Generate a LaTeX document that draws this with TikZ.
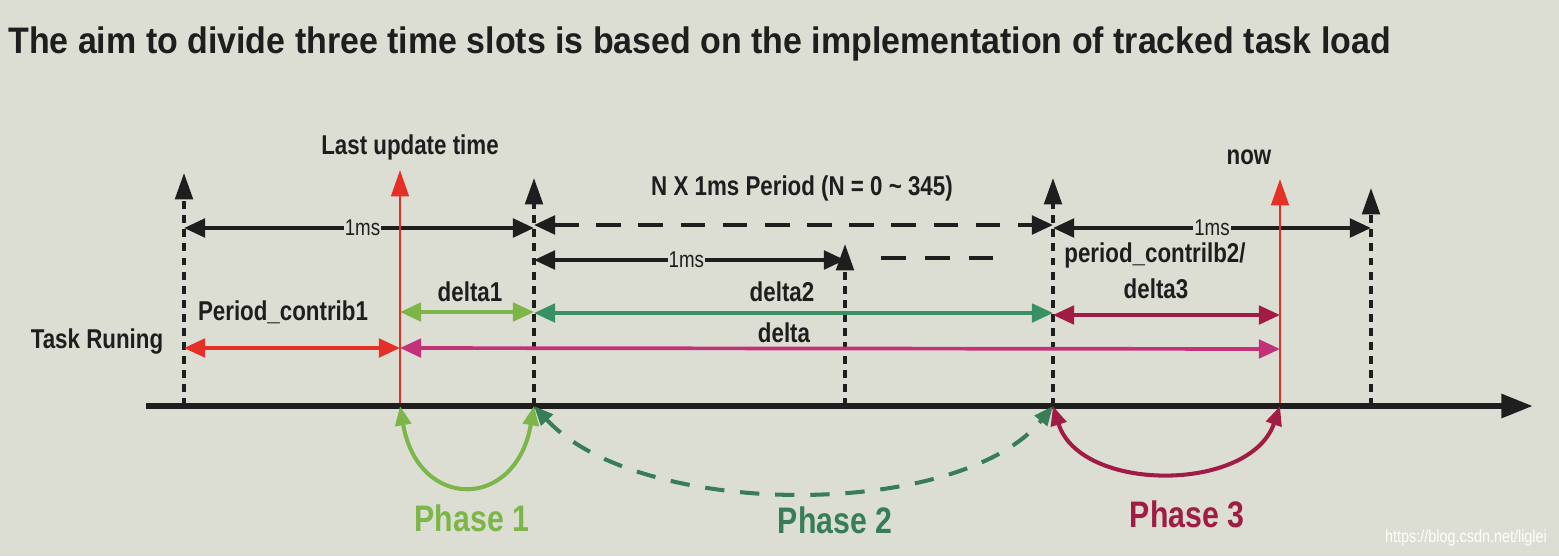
\documentclass[tikz,border=0pt]{standalone}
\usepackage{fontspec}
\setmainfont{Liberation Sans}
\newfontfamily\narrowf[FakeStretch=0.82]{Liberation Sans}
\newfontfamily\titlef[FakeStretch=0.92]{Liberation Sans}
\usetikzlibrary{arrows.meta}
\definecolor{bg}{RGB}{220,222,212}
\definecolor{ink}{RGB}{30,30,30}
\definecolor{cred}{RGB}{228,48,38}
\definecolor{lgreen}{RGB}{125,182,72}
\definecolor{dgreen}{RGB}{55,145,100}
\definecolor{pgreen}{RGB}{55,125,88}
\definecolor{magen}{RGB}{195,50,120}
\definecolor{dred}{RGB}{160,28,68}
\tikzset{
  lbl/.style={font=\narrowf\bfseries\fontsize{15.5}{17}\selectfont, text=ink, inner sep=1pt},
  mslbl/.style={font=\narrowf\fontsize{13}{15}\selectfont, text=ink, fill=bg, inner xsep=0.5pt, inner ysep=0pt},
  phlbl/.style={font=\narrowf\bfseries\fontsize{21}{24}\selectfont, inner sep=1pt},
  vdash/.style={ink, line width=2pt, dash pattern=on 4.5pt off 3.5pt, -{Triangle[length=15pt,width=10pt]}},
  vred/.style={cred, line width=1.6pt, -{Triangle[length=15pt,width=10pt]}},
  dim/.style={ink, line width=2.3pt, {Triangle[length=12pt,width=10.5pt]}-{Triangle[length=12pt,width=10.5pt]}},
  cdim/.style={line width=2.1pt, {Triangle[length=12pt,width=10.5pt]}-{Triangle[length=12pt,width=10.5pt]}},
  phase/.style={line width=2.3pt, {Triangle[length=11pt,width=9pt]}-{Triangle[length=11pt,width=9pt]}},
}
\begin{document}
\begin{tikzpicture}[x=0.02cm,y=-0.02cm]
\fill[bg] (0,0) rectangle (1559,556);
\useasboundingbox (0,0) rectangle (1559,556);

% title
\node[anchor=west, font=\titlef\bfseries\fontsize{21}{24}\selectfont, text=ink, inner sep=0pt] (title) at (8,44)
  {The aim to divide three time slots is based on the implementation of tracked task load};

% axis coordinates
\coordinate (ax0) at (146,406);
\coordinate (ax1) at (1533,406);
\coordinate (b1) at (184,406);
\coordinate (b2) at (400,406);
\coordinate (b3) at (534,406);
\coordinate (b4) at (845,406);
\coordinate (b5) at (1053,406);
\coordinate (b6) at (1280,406);
\coordinate (b7) at (1371,406);
\coordinate (t1) at (184,173);
\coordinate (t2) at (400,170);
\coordinate (t3) at (534,178);
\coordinate (t4) at (845,244);
\coordinate (t5) at (1053,178);
\coordinate (t6) at (1280,179);
\coordinate (t7) at (1371,188);

% verticals
\draw[vdash] (b1) -- (t1);
\draw[vdash] (b3) -- (t3);
\draw[vdash] (b4) -- (t4);
\draw[vdash] (b5) -- (t5);
\draw[vdash] (b7) -- (t7);

% dimension coordinates
\coordinate (m1a) at (184,228);
\coordinate (m1b) at (534,228);
\coordinate (n1a) at (534,225);
\coordinate (n1b) at (1053,225);
\coordinate (m2a) at (534,260);
\coordinate (m2b) at (845,260);
\coordinate (s1a) at (881,258);
\coordinate (s1b) at (997,258);
\coordinate (m3a) at (1053,228);
\coordinate (m3b) at (1371,228);
\coordinate (d1a) at (400,312);
\coordinate (d1b) at (534,312);
\coordinate (d2a) at (534,313);
\coordinate (d2b) at (1053,313);
\coordinate (d3a) at (1053,315);
\coordinate (d3b) at (1280,315);
\coordinate (pa) at (184,348);
\coordinate (pb) at (400,348);
\coordinate (da) at (400,348);
\coordinate (db) at (1280,349);

% 1ms rows
\draw[dim] (m1a) -- (m1b) node[mslbl, pos=0.51] (ms1) {1ms};
\draw[dim, dash pattern=on 14pt off 10pt] (n1a) -- (n1b);
\draw[dim] (m2a) -- (m2b) node[mslbl, pos=0.49] (ms2) {1ms};
\draw[ink, line width=2.3pt, dash pattern=on 14pt off 11pt] (s1a) -- (s1b);
\draw[dim] (m3a) -- (m3b) node[mslbl, pos=0.5] (ms3) {1ms};

% coloured deltas
\draw[cdim, lgreen] (d1a) -- (d1b);
\draw[cdim, dgreen] (d2a) -- (d2b);
\draw[cdim, dred] (d3a) -- (d3b);
\draw[cdim, cred] (pa) -- (pb);
\draw[cdim, magen] (da) -- (db);

% red verticals
\draw[vred] (b2) -- (t2);
\draw[vred] (b6) -- (t6);

% axis
\draw[ink, line width=3.6pt, -{Triangle[length=18pt,width=13pt]}] (ax0) -- (ax1);

% labels
\node[lbl] (lut) at (410,147) {Last update time};
\node[lbl] (nx) at (802,188) {N X 1ms Period (N = 0 \textasciitilde{} 345)};
\node[lbl] (now) at (1249,157) {now};
\node[lbl] (dl1) at (470,292) {delta1};
\node[lbl] (dl2) at (782,292) {delta2};
\node[lbl] (dl) at (784,333) {delta};
\node[lbl, inner ysep=0pt] (pc2) at (1155,255) {period\_contrilb2/};
\node[lbl] (dl3) at (1156,289) {delta3};
\node[lbl] (pc1) at (283,312) {Period\_contrib1};
\node[lbl] (tr) at (97,342) {Task Runing};

% phase arcs
\draw[phase, lgreen] (b2) .. controls (418,511) and (516,511) .. (b3);
\draw[phase, pgreen, dash pattern=on 11pt off 9pt] (b3) .. controls (640,520) and (960,520) .. (b5);
\draw[phase, dred] (b5) .. controls (1080,493) and (1250,493) .. (b6);

\node[phlbl, text=lgreen] (ph1) at (472,518) {Phase 1};
\node[phlbl, text=pgreen] (ph2) at (835,520) {Phase 2};
\node[phlbl, text=dred] (ph3) at (1187,514) {Phase 3};

\node[font=\narrowf\fontsize{10}{12}\selectfont, text=white, inner sep=0pt] (wm) at (1466,538) {https://blog.csdn.net/liglei};
\end{tikzpicture}
\end{document}
